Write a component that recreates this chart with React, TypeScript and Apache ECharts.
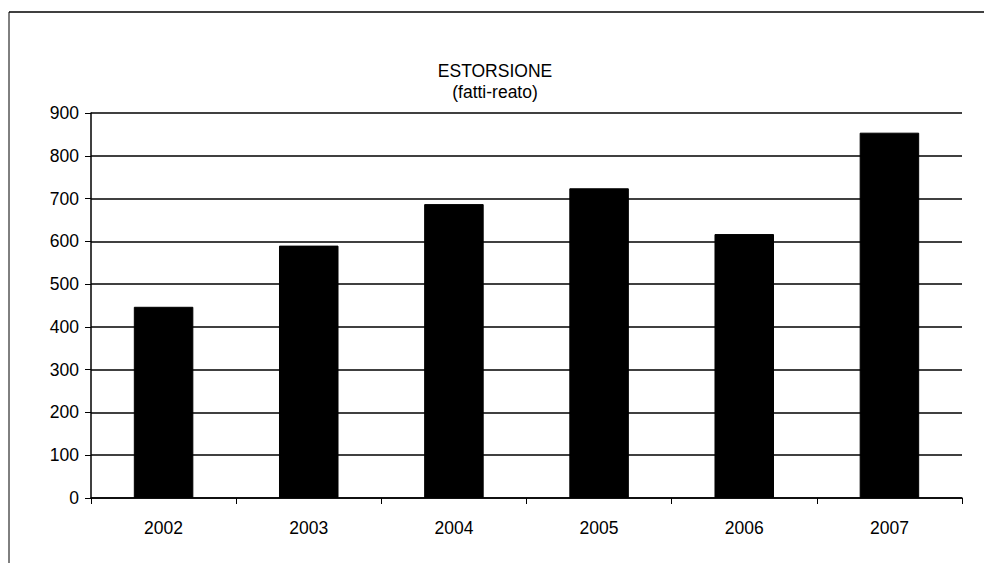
import React, { useEffect, useRef } from "react";
import * as echarts from "echarts";

const categories = ["2002", "2003", "2004", "2005", "2006", "2007"];
const values = [447, 590, 687, 724, 617, 854];
const titleLines = ["ESTORSIONE", "(fatti-reato)"];

export default function App() {
  const ref = useRef<HTMLDivElement>(null);
  useEffect(() => {
    if (!ref.current) return;
    const chart = echarts.init(ref.current, null, { renderer: "svg" });
    const font = "'Liberation Sans', Arial, sans-serif";
    chart.setOption({
      animation: false,
      backgroundColor: "#fff",
      title: {
        text: titleLines[0],
        subtext: titleLines[1],
        left: 490,
        textAlign: "center",
        top: 57,
        itemGap: 3,
        textStyle: { fontFamily: font, fontSize: 17.5, fontWeight: "normal", color: "#000" },
        subtextStyle: { fontFamily: font, fontSize: 17.5, color: "#000" },
      },
      grid: { left: 91, right: 22, top: 113, bottom: 65 },
      xAxis: {
        type: "category",
        data: categories,
        axisLine: { lineStyle: { color: "#000", width: 1.5 } },
        axisTick: { show: true, length: 6, lineStyle: { color: "#000" } },
        axisLabel: { fontFamily: font, fontSize: 17.5, color: "#000", margin: 21 },
      },
      yAxis: {
        type: "value",
        min: 0,
        max: 900,
        interval: 100,
        axisLine: { show: true, lineStyle: { color: "#000", width: 1.5 } },
        axisTick: { show: true, length: 6, lineStyle: { color: "#000" } },
        axisLabel: { fontFamily: font, fontSize: 17.5, color: "#000", margin: 12 },
        splitLine: { show: true, lineStyle: { color: "#000", width: 1.5 } },
      },
      series: [
        {
          type: "bar",
          data: values,
          barWidth: "41%",
          itemStyle: { color: "#000", borderColor: "#000", borderWidth: 1 },
        },
      ],
      graphic: [
        { type: "line", shape: { x1: 9, y1: 12, x2: 984, y2: 12 }, style: { stroke: "#000", lineWidth: 1.5 } },
        { type: "line", shape: { x1: 9, y1: 12, x2: 9, y2: 563 }, style: { stroke: "#000", lineWidth: 1 } },
      ],
    });
    return () => chart.dispose();
  }, []);
  return <div ref={ref} style={{ width: 984, height: 563, position: "absolute", left: 0, top: 0 }} />;
}
